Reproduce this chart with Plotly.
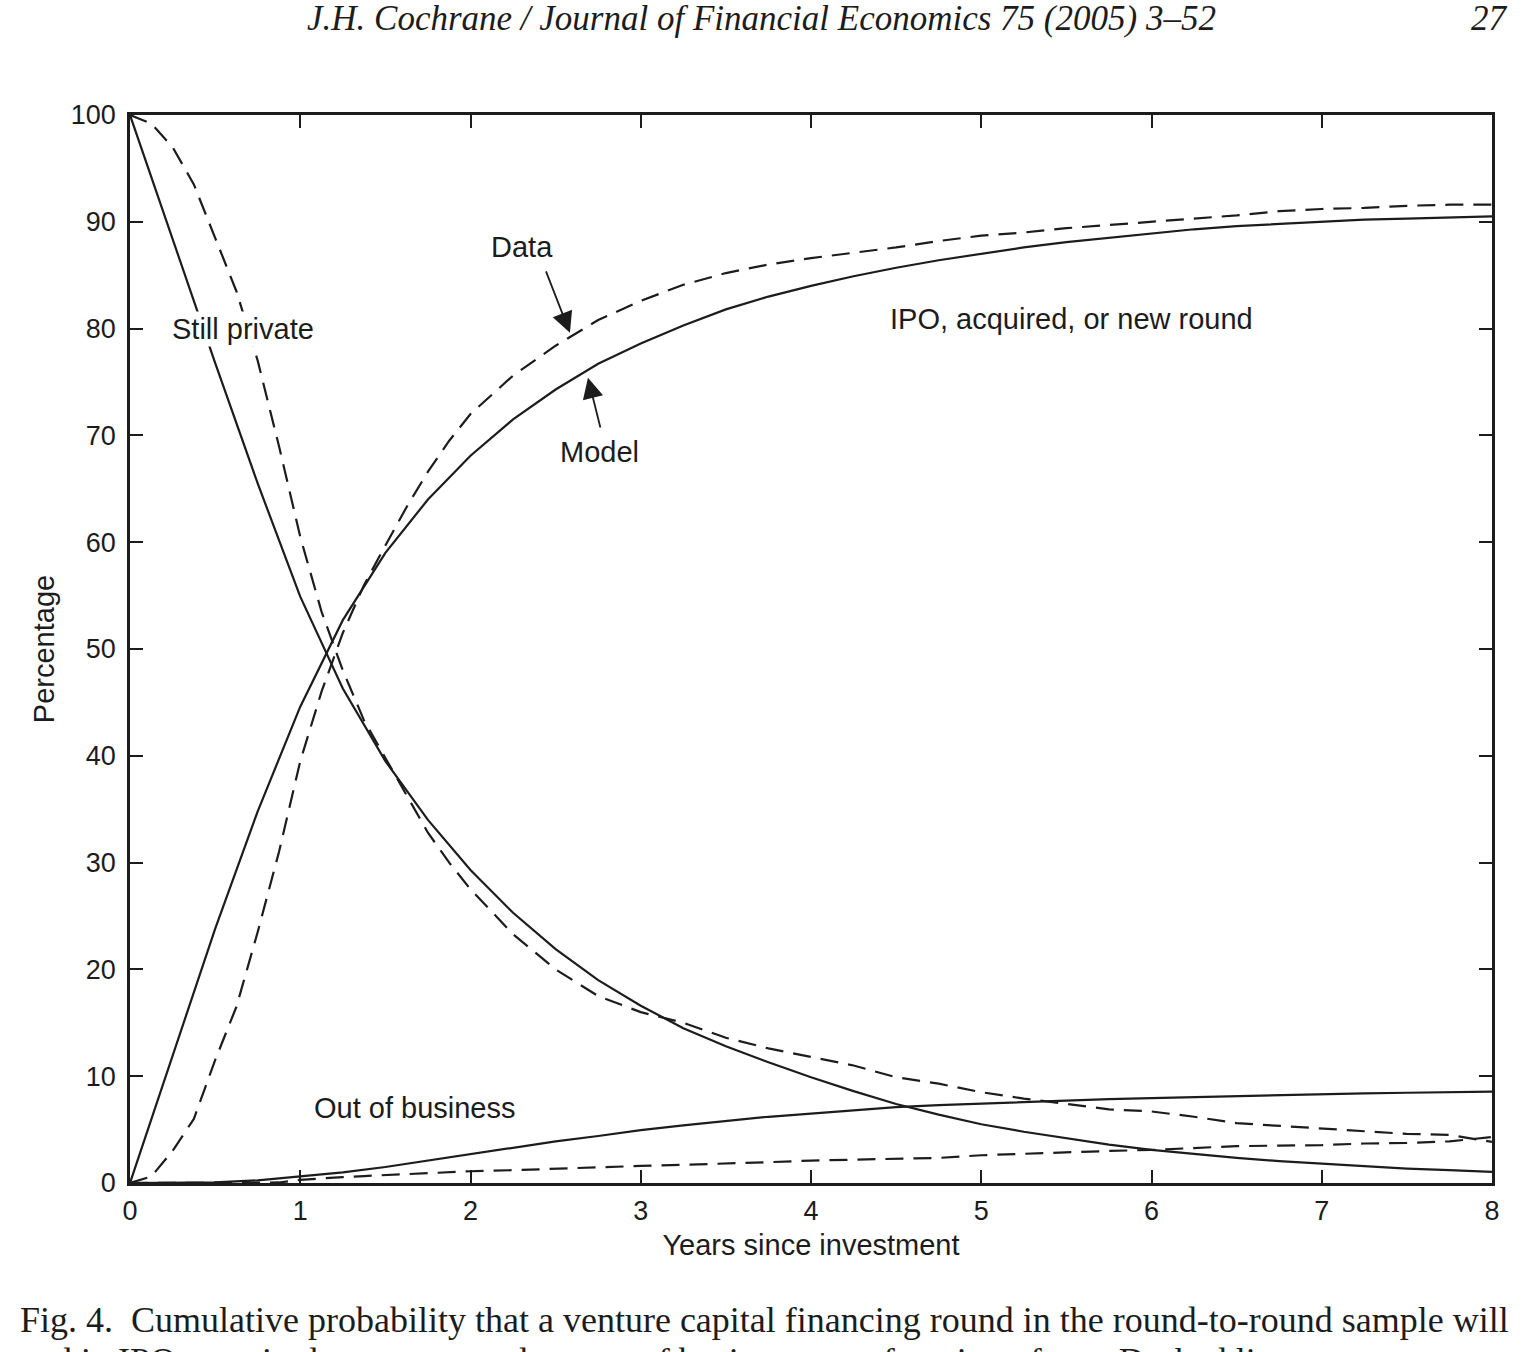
import plotly.graph_objects as go

# ---------------- data ----------------
model_years = [0, 0.25, 0.5, 0.75, 1.0, 1.25, 1.5, 1.75, 2.0, 2.25, 2.5, 2.75, 3.0, 3.25, 3.5, 3.75,
               4.0, 4.25, 4.5, 4.75, 5.0, 5.25, 5.5, 5.75, 6.0, 6.25, 6.5, 6.75, 7.0, 7.25, 7.5, 7.75, 8.0]
model_private = [100, 88.4, 76.8, 65.5, 54.9, 46.3, 39.5, 34.0, 29.3, 25.3, 21.9, 19.0, 16.6, 14.5, 12.8, 11.3,
                 9.9, 8.6, 7.4, 6.4, 5.5, 4.8, 4.2, 3.6, 3.1, 2.7, 2.35, 2.05, 1.8, 1.55, 1.35, 1.2, 1.05]
model_ipo = [0, 11.8, 23.8, 34.8, 44.6, 52.7, 59.0, 64.0, 68.1, 71.5, 74.3, 76.7, 78.6, 80.3, 81.8, 83.0,
             84.0, 84.9, 85.7, 86.4, 87.0, 87.6, 88.1, 88.5, 88.9, 89.3, 89.6, 89.8, 90.0, 90.2, 90.3, 90.4, 90.5]
model_out = [0, 0, 0.05, 0.25, 0.6, 1.0, 1.5, 2.1, 2.7, 3.3, 3.9, 4.4, 4.95, 5.4, 5.8, 6.2,
             6.5, 6.8, 7.1, 7.3, 7.45, 7.6, 7.75, 7.85, 7.95, 8.05, 8.15, 8.25, 8.33, 8.4, 8.45, 8.5, 8.55]

data_years = [0, 0.125, 0.25, 0.375, 0.5, 0.625, 0.75, 0.875, 1.0, 1.125, 1.25, 1.375, 1.5, 1.625, 1.75, 1.875,
              2.0, 2.25, 2.5, 2.75, 3.0, 3.25, 3.5, 3.75, 4.0, 4.25, 4.5, 4.75, 5.0, 5.25, 5.5, 5.75,
              6.0, 6.25, 6.5, 6.75, 7.0, 7.25, 7.5, 7.75, 8.0]
data_private = [100, 99.2, 97.0, 93.5, 88.5, 83.5, 77.0, 69.0, 60.5, 53.5, 48.0, 43.3, 39.8, 36.3, 32.8, 30.0,
                27.5, 23.3, 20.0, 17.5, 16.0, 15.0, 13.6, 12.6, 11.8, 11.0, 9.9, 9.3, 8.5, 7.9, 7.4, 6.9,
                6.7, 6.2, 5.6, 5.35, 5.15, 4.9, 4.6, 4.5, 3.85]
data_ipo = [0, 0.6, 3.0, 6.0, 11.5, 16.5, 23.5, 31.0, 39.5, 46.0, 51.5, 56.0, 59.7, 63.3, 66.6, 69.5,
            72.0, 75.6, 78.4, 80.8, 82.6, 84.1, 85.2, 86.0, 86.6, 87.1, 87.6, 88.2, 88.7, 89.0, 89.4, 89.7,
            90.0, 90.3, 90.6, 91.0, 91.2, 91.3, 91.5, 91.6, 91.6]
data_out = [0, 0, 0, 0, 0, 0, 0, 0.05, 0.3, 0.45, 0.55, 0.65, 0.75, 0.85, 0.95, 1.0,
            1.1, 1.2, 1.35, 1.5, 1.6, 1.7, 1.8, 1.95, 2.1, 2.2, 2.3, 2.35, 2.6, 2.75, 2.9, 3.0,
            3.1, 3.3, 3.45, 3.5, 3.55, 3.7, 3.75, 3.9, 4.3]

x_ticks = [0, 1, 2, 3, 4, 5, 6, 7, 8]
y_ticks = [0, 10, 20, 30, 40, 50, 60, 70, 80, 90, 100]

# ---------------- figure ----------------
INK = "#1c1c1c"
SANS = "Liberation Sans, Arial, Helvetica, sans-serif"
SERIF = "Liberation Serif, Times New Roman, serif"

fig = go.Figure()
for ys in (model_private, model_ipo, model_out):
    fig.add_trace(go.Scatter(x=model_years, y=ys, mode="lines",
                             line=dict(color=INK, width=2.2), showlegend=False, hoverinfo="skip"))
for ys in (data_private, data_ipo, data_out):
    fig.add_trace(go.Scatter(x=data_years, y=ys, mode="lines",
                             line=dict(color=INK, width=2.2, dash="18px,10px"), showlegend=False,
                             hoverinfo="skip"))

axis_common = dict(showgrid=False, zeroline=False, showline=True, linecolor=INK, linewidth=2.5,
                   mirror="ticks", ticks="inside", ticklen=13, tickwidth=2, tickcolor=INK,
                   tickfont=dict(family=SANS, size=27, color=INK))
fig.update_xaxes(range=[0, 8], tickvals=x_ticks, ticktext=[str(v) for v in x_ticks],
                 ticklabelstandoff=2,
                 title=dict(text="Years since investment", font=dict(family=SANS, size=29, color=INK),
                            standoff=10), **axis_common)
fig.update_yaxes(range=[0, 100], tickvals=y_ticks, ticktext=[str(v) for v in y_ticks],
                 ticklabelstandoff=6,
                 title=dict(text="Percentage", font=dict(family=SANS, size=29, color=INK), standoff=8),
                 **axis_common)

lab = dict(family=SANS, size=29, color=INK)
annotations = [
    dict(x=0.664, y=80.0, text="Still private", showarrow=False, font=lab, bgcolor="white"),
    dict(x=5.528, y=80.9, text="IPO, acquired, or new round", showarrow=False, font=lab, bgcolor="white"),
    dict(x=1.674, y=7.0, text="Out of business", showarrow=False, font=lab, bgcolor="white"),
    dict(x=2.30, y=87.6, text="Data", showarrow=False, font=lab),
    dict(x=2.755, y=68.4, text="Model", showarrow=False, font=lab),
    # arrows
    dict(x=2.584, y=79.6, ax=2.44, ay=85.5, axref="x", ayref="y", xref="x", yref="y", text="",
         showarrow=True, arrowhead=2, arrowsize=2.3, arrowwidth=1.8, arrowcolor=INK),
    dict(x=2.69, y=75.4, ax=2.765, ay=70.6, axref="x", ayref="y", xref="x", yref="y", text="",
         showarrow=True, arrowhead=2, arrowsize=2.3, arrowwidth=1.8, arrowcolor=INK),
    # page header
    dict(xref="paper", yref="paper", x=0.464, y=1.0908,
         text="<i>J.H. Cochrane / Journal of Financial Economics 75 (2005) 3–52</i>",
         showarrow=False, font=dict(family=SERIF, size=35, color=INK), xanchor="center", yanchor="middle"),
    dict(xref="paper", yref="paper", x=1.0132, y=1.0908, text="<i>27</i>",
         showarrow=False, font=dict(family=SERIF, size=35, color=INK), xanchor="right", yanchor="middle"),
    # caption
    dict(xref="paper", yref="paper", x=-0.0822, y=-0.128,
         text="Fig. 4.  Cumulative probability that a venture capital financing round in the round-to-round sample will",
         showarrow=False, font=dict(family=SERIF, size=36, color=INK), xanchor="left", yanchor="middle"),
    dict(xref="paper", yref="paper", x=-0.0822, y=-0.167,
         text="end in IPO, acquired, or new round, or out of business, as a function of age. Dashed lines",
         showarrow=False, font=dict(family=SERIF, size=36, color=INK), xanchor="left", yanchor="middle"),
]
for a in annotations:
    a.setdefault("xref", "x")
    a.setdefault("yref", "y")
fig.update_layout(annotations=annotations)

fig.update_layout(width=1528, height=1352, margin=dict(l=130, r=36, t=115, b=169),
                  paper_bgcolor="white", plot_bgcolor="white")
fig.write_html("out.html")
